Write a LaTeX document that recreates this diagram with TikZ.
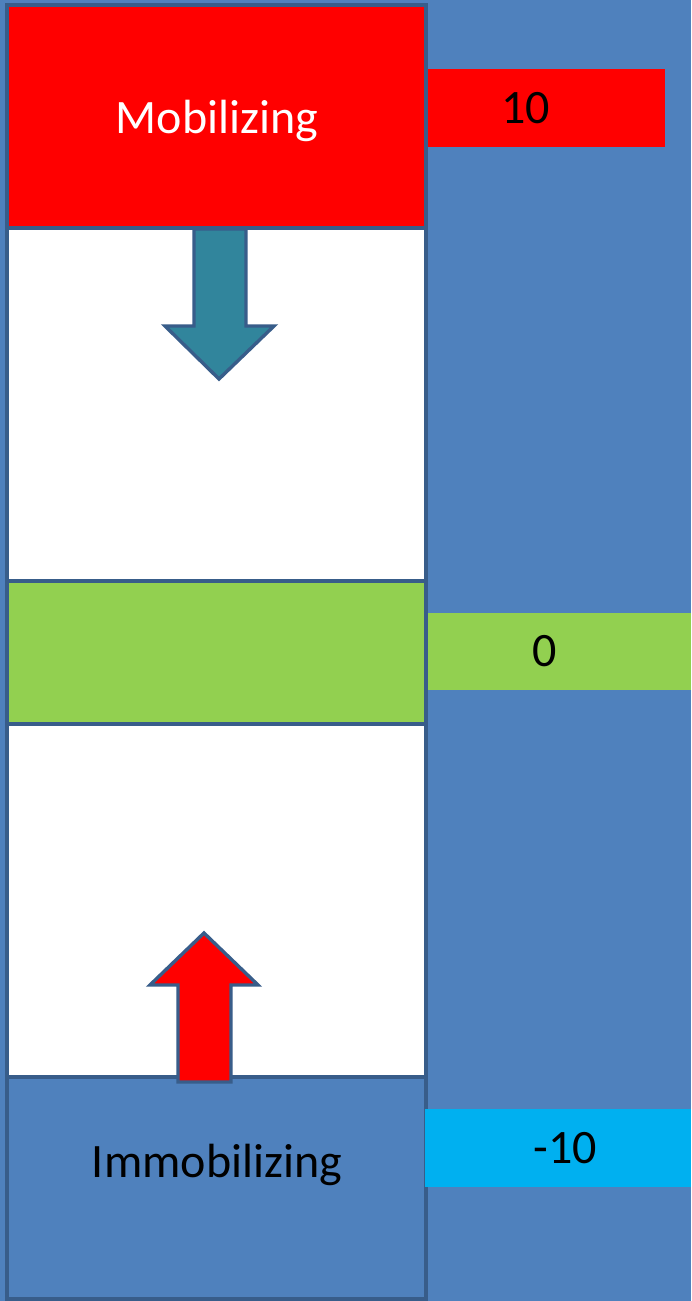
\documentclass[tikz,border=0pt]{standalone}
\usepackage{fontspec}
\setmainfont{Carlito}
\usepackage{xcolor}
\usepackage{tikz}
\definecolor{slideblue}{HTML}{4F81BD}
\definecolor{edgeblue}{HTML}{385D8A}
\definecolor{levelgreen}{HTML}{92D050}
\definecolor{levelcyan}{HTML}{00B0F0}
\definecolor{arrowteal}{HTML}{31859C}
\usetikzlibrary{positioning, calc}

\begin{document}
\begin{tikzpicture}[
    x=0.5pt, y=-0.5pt,
    stagebox/.style={draw=edgeblue, line width=2.4pt, minimum width=209.5pt,
                 inner sep=0pt, font=\fontsize{24}{29}\selectfont},
    valbox/.style={inner sep=0pt, minimum height=39pt},
    valtext/.style={font=\fontsize{24}{29}\selectfont, text=black},
    blockarrow/.style={draw=edgeblue, line width=1.7pt, line join=miter}
]
    % background
    \fill[slideblue] (0,0) rectangle (691,1301);
    \useasboundingbox (0,0) rectangle (691,1301);

    \node[stagebox, fill=red, minimum height=111.5pt] (mob) at (216.5,116.5) {};
    \node[text=white, font=\fontsize{24}{29}\selectfont] (mobtext) at (217,121) {Mobilizing};
    \node[stagebox, fill=white, minimum height=176.5pt] (upper) at (216.5,404.5) {};
    \node[stagebox, fill=levelgreen, minimum height=71.5pt] (mid) at (216.5,652.5) {};
    \node[stagebox, fill=white, minimum height=176.5pt] (lower) at (216.5,900.5) {};
    \node[stagebox, fill=slideblue, minimum height=111pt] (imm) at (216.5,1188) {};
    \node[text=black, font=\fontsize{24}{29}\selectfont] (immtext) at (217,1165) {Immobilizing};

    % scale values
    \node[valbox, fill=red, minimum width=118.5pt] (ten) at (546.5,108) {};
    \node[valtext] at ([xshift=-10.5pt]ten.center) {10};
    \node[valbox, fill=levelgreen, minimum width=131.5pt, minimum height=38.5pt] (zero) at (559.5,651.5) {};
    \node[valtext] at ([xshift=-7.5pt]zero.center) {0};
    \node[valbox, fill=levelcyan, minimum width=133pt] (minus) at (558,1148) {};
    \node[valtext] at ([xshift=3.5pt]minus.center) {-10};

    % Arrows
    \draw[blockarrow, fill=arrowteal] (194,229) -- (246,229) -- (246,326) -- (274,326)
        -- (219,379) -- (165,326) -- (194,326) -- cycle;
    \draw[blockarrow, fill=red] (178,1082) -- (178,985) -- (150,985) -- (204,933)
        -- (258,985) -- (231,985) -- (231,1082) -- cycle;
\end{tikzpicture}
\end{document}
